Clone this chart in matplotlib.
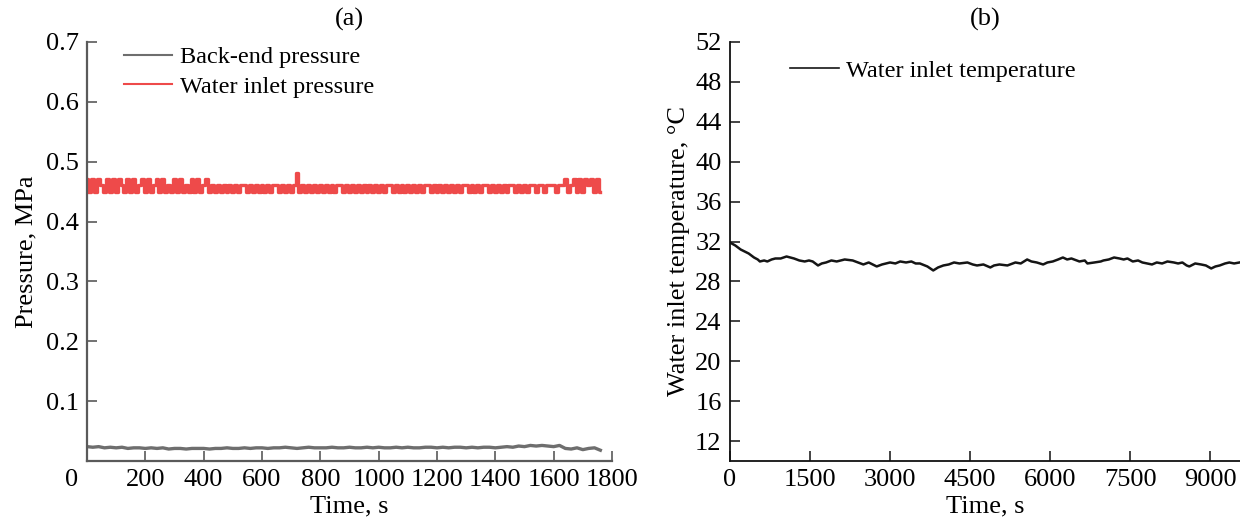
import matplotlib
matplotlib.use("Agg")
import matplotlib.pyplot as plt
import matplotlib.transforms as mtransforms
import numpy as np

plt.rcParams["font.family"] = ["Liberation Serif", "DejaVu Serif"]

# (a) water inlet pressure, MPa, one reading every 10 s from 0 to 1760 s
red_step = 10
water_inlet_p = [
    .471, .450, .471, .450, .471, .461, .450, .471, .450, .471,
    .450, .471, .461, .450, .471, .450, .471, .450, .461, .471,
    .450, .471, .450, .461, .471, .450, .471, .450, .461, .450,
    .471, .450, .471, .450, .461, .450, .471, .450, .471, .450,
    .461, .471, .450, .461, .450, .461, .450, .461, .450, .461,
    .450, .461, .450, .461, .461, .450, .461, .450, .461, .450,
    .461, .450, .461, .450, .461, .461, .450, .461, .450, .461,
    .450, .461, .481, .450, .461, .450, .461, .450, .461, .450,
    .461, .450, .461, .450, .461, .450, .461, .461, .450, .461,
    .450, .461, .450, .461, .450, .461, .450, .461, .450, .461,
    .450, .461, .450, .461, .461, .450, .461, .450, .461, .450,
    .461, .450, .461, .450, .461, .450, .461, .461, .450, .461,
    .450, .461, .450, .461, .450, .461, .450, .461, .450, .461,
    .461, .450, .461, .450, .461, .450, .461, .461, .450, .461,
    .450, .461, .450, .461, .450, .461, .461, .450, .461, .450,
    .461, .450, .461, .461, .450, .461, .461, .450, .461, .461,
    .461, .450, .461, .461, .471, .450, .461, .471, .450, .471,
    .450, .471, .461, .471, .450, .471, .450,
]

# (a) back-end pressure, MPa, one reading every 20 s from 0 to 1760 s
gray_step = 20
back_end_p = [
    .024, .023, .024, .022, .023, .022, .023, .021, .022, .022,
    .021, .022, .021, .022, .020, .021, .021, .020, .021, .021,
    .021, .020, .021, .021, .022, .021, .021, .022, .021, .022,
    .022, .021, .022, .022, .023, .022, .021, .022, .023, .022,
    .022, .022, .023, .022, .022, .023, .022, .022, .023, .022,
    .023, .022, .022, .023, .022, .023, .022, .022, .023, .023,
    .022, .023, .022, .023, .023, .022, .023, .022, .023, .023,
    .022, .023, .024, .023, .025, .024, .026, .025, .026, .025,
    .024, .026, .021, .020, .022, .019, .021, .022, .018,
]

# (b) water inlet temperature, degC
temp_t = [0, 100, 200, 350, 450, 520, 560, 640, 700, 780, 850, 950, 1060,
          1130, 1200, 1300, 1400, 1480, 1550, 1650, 1720, 1800, 1900, 2000,
          2150, 2300, 2400, 2500, 2600, 2750, 2850, 3000, 3100, 3190, 3300,
          3400, 3480, 3560, 3700, 3810, 3900, 4000, 4100, 4200, 4300, 4450,
          4550, 4630, 4750, 4880, 4950, 5050, 5200, 5350, 5450, 5570, 5650,
          5750, 5870, 5950, 6050, 6150, 6240, 6320, 6400, 6550, 6650, 6700,
          6830, 6950, 7000, 7100, 7200, 7300, 7380, 7450, 7550, 7650, 7730,
          7820, 7910, 8000, 8100, 8200, 8320, 8400, 8480, 8560, 8610, 8720,
          8830, 8920, 9020, 9100, 9180, 9280, 9360, 9450, 9550]
temp_v = [31.9, 31.6, 31.2, 30.8, 30.4, 30.2, 30.0, 30.1, 30.0, 30.2, 30.3,
          30.3, 30.5, 30.4, 30.3, 30.1, 30.0, 30.1, 30.0, 29.6, 29.8, 29.9,
          30.1, 30.0, 30.2, 30.1, 29.9, 29.7, 29.9, 29.5, 29.7, 29.9, 29.8,
          30.0, 29.9, 30.0, 29.8, 29.8, 29.5, 29.1, 29.4, 29.6, 29.7, 29.9,
          29.8, 29.9, 29.7, 29.6, 29.7, 29.4, 29.6, 29.7, 29.6, 29.9, 29.8,
          30.2, 30.0, 29.9, 29.7, 29.9, 30.0, 30.2, 30.4, 30.2, 30.3, 30.0,
          30.1, 29.8, 29.9, 30.0, 30.1, 30.2, 30.4, 30.3, 30.2, 30.3, 30.0,
          30.1, 29.9, 29.8, 29.7, 29.9, 29.8, 30.0, 29.9, 29.8, 29.9, 29.6,
          29.5, 29.8, 29.7, 29.6, 29.3, 29.5, 29.6, 29.8, 29.9, 29.8, 29.9]

p_xticks = list(range(0, 1801, 200))
p_yticks = [0.1, 0.2, 0.3, 0.4, 0.5, 0.6, 0.7]
t_xticks = list(range(0, 9001, 1500))
t_yticks = list(range(12, 53, 4))

FS = 19
GRAY_AX = "#5a5a5a"

fig = plt.figure(figsize=(12.4, 5.2), dpi=100)
ax1 = fig.add_axes([87 / 1240, 59 / 520, 525 / 1240, 419 / 520])
ax2 = fig.add_axes([730 / 1240, 59 / 520, 510 / 1240, 419 / 520])

# --- (a) pressure ---
t_red = np.arange(len(water_inlet_p)) * red_step
t_gray = np.arange(len(back_end_p)) * gray_step
ax1.plot(t_gray, back_end_p, color="#6e6e6e", lw=2.4, label="Back-end pressure")
ax1.plot(t_red, water_inlet_p, color="#ee4a4a", lw=2.4, drawstyle="steps-mid",
         label="Water inlet pressure")
ax1.set_xlim(0, 1800)
ax1.set_ylim(0, 0.7)
ax1.set_xticks(p_xticks)
ax1.set_yticks(p_yticks)
ax1.set_xlabel("Time, s", fontsize=FS, labelpad=3)
ax1.set_ylabel("Pressure, MPa", fontsize=FS, labelpad=6)
ax1.set_title("(a)", fontsize=FS, pad=12)
for s in ["top", "right"]:
    ax1.spines[s].set_visible(False)
for s in ["left", "bottom"]:
    ax1.spines[s].set_color(GRAY_AX)
    ax1.spines[s].set_linewidth(1.6)
ax1.tick_params(direction="in", length=7, width=1.2, color=GRAY_AX,
                labelsize=FS, pad=6)
leg1 = ax1.legend(loc="upper left", bbox_to_anchor=(0.07, 0.99), frameon=False,
                  fontsize=17.5, handlelength=2.0, handletextpad=0.3,
                  labelspacing=0.32, borderpad=0, borderaxespad=0)
for h in leg1.get_lines():
    h.set_linewidth(1.5)
# the "0" label sits a bit to the left of the axis in the original
off = mtransforms.ScaledTranslation(-15 / 100, 0, fig.dpi_scale_trans)
for lab in ax1.get_xticklabels()[:1]:
    lab.set_transform(lab.get_transform() + off)

# --- (b) temperature ---
ax2.plot(temp_t, temp_v, color="#151515", lw=1.8, label="Water inlet temperature")
ax2.set_xlim(0, 9560)
ax2.set_ylim(10, 52)
ax2.set_xticks(t_xticks)
ax2.set_yticks(t_yticks)
ax2.set_xlabel("Time, s", fontsize=FS, labelpad=3)
ax2.set_ylabel("Water inlet temperature, °C", fontsize=FS, labelpad=4)
ax2.set_title("(b)", fontsize=FS, pad=12)
for s in ["top", "right"]:
    ax2.spines[s].set_visible(False)
for s in ["left", "bottom"]:
    ax2.spines[s].set_color("#111111")
    ax2.spines[s].set_linewidth(1.3)
ax2.tick_params(direction="in", length=7, width=1.1, color="#111111",
                labelsize=FS, pad=6)
leg2 = ax2.legend(loc="upper left", bbox_to_anchor=(0.118, 0.958), frameon=False,
                  fontsize=17.5, handlelength=2.0, handletextpad=0.3,
                  borderpad=0, borderaxespad=0)
for h in leg2.get_lines():
    h.set_linewidth(1.2)

fig.savefig("out.png", dpi=100)
